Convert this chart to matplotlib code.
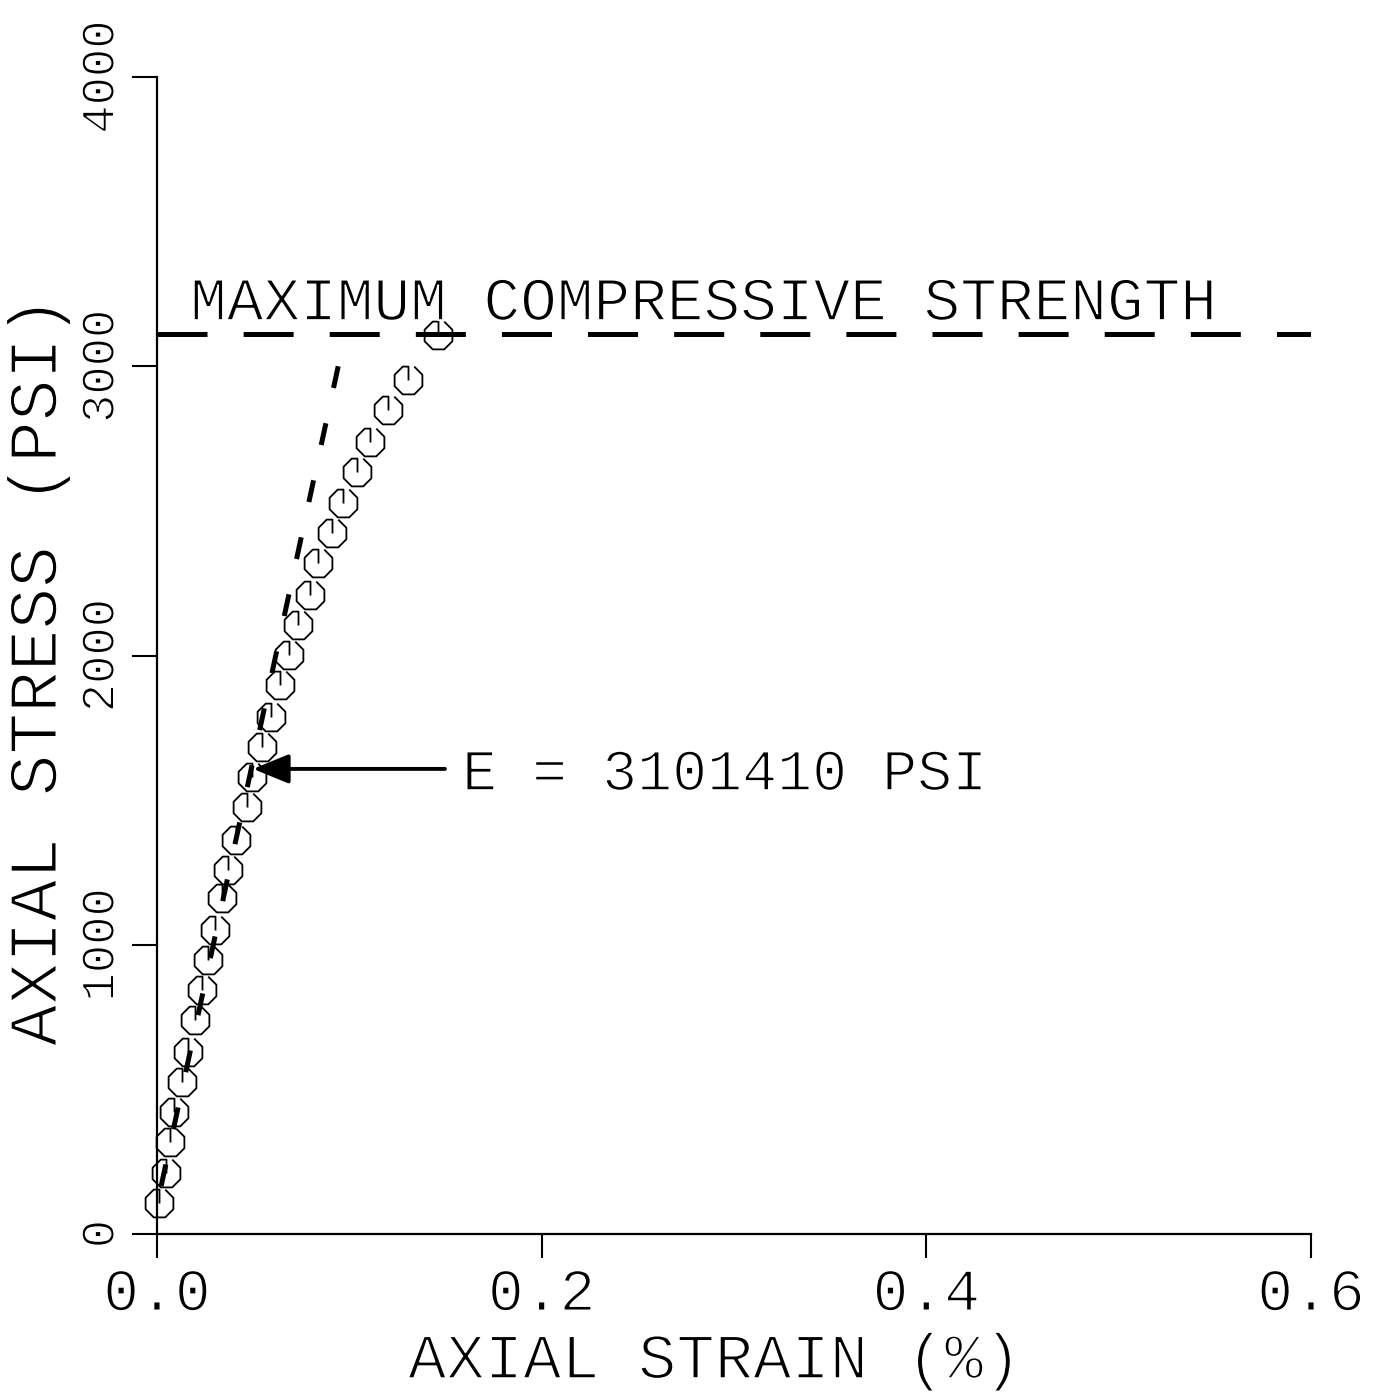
import numpy as np
import matplotlib
matplotlib.use("Agg")
import matplotlib.pyplot as plt
import matplotlib.patheffects as pe
from matplotlib.path import Path

# test points: axial strain (%) and axial stress (psi)
strain = [0.0010, 0.0047, 0.0068, 0.0088, 0.0130, 0.0161, 0.0198, 0.0234, 0.0265, 0.0302,
          0.0338, 0.0369, 0.0411, 0.0468, 0.0494, 0.0546, 0.0593, 0.0640, 0.0686, 0.0733,
          0.0796, 0.0837, 0.0910, 0.0967, 0.1040, 0.1107, 0.1201, 0.1305, 0.1461]
stress = [107, 211, 318, 422, 525, 629, 740, 844, 947, 1051,
          1161, 1258, 1362, 1476, 1580, 1683, 1787, 1898, 2001, 2105,
          2209, 2320, 2424, 2527, 2635, 2738, 2849, 2952, 3108]

# modulus line, top end first so the dash pattern starts there
mod_strain = [0.0942, 0.0]
mod_stress = [3000, 100]

max_strength = 3110
strength_label = "MAXIMUM COMPRESSIVE STRENGTH"
E_label = "E = 3101410 PSI"
E_tip = (0.0499, 1608)
E_tail = (0.1497, 1608)

xticks = [0.0, 0.2, 0.4, 0.6]
xticklabels = ["0.0", "0.2", "0.4", "0.6"]
yticks = [0, 1000, 2000, 3000, 4000]
yticklabels = ["0", "1000", "2000", "3000", "4000"]

plt.rcParams['font.family'] = ['Liberation Mono']
plt.rcParams['lines.scale_dashes'] = False


def thin(w):
    # eat into the glyph outline with white so strokes look like pen-plotter lines
    return [pe.Stroke(linewidth=w, foreground='white')]


# octagon with a stroke from centre to top, open on the upper right
c, s = np.cos(np.deg2rad(22.5)), np.sin(np.deg2rad(22.5))
verts = [(0, 0), (0, c), (-s, c), (-c, s), (-c, -s), (-s, -c), (s, -c), (c, -s), (c, s), (s, c)]
codes = [Path.MOVETO] + [Path.LINETO] * (len(verts) - 1)
sym = Path(verts, codes)

fig = plt.figure(figsize=(13.75, 13.95), dpi=100)
ax = fig.add_axes([0.1142, 0.1154, 0.8393, 0.8294])

ax.plot(strain, stress, linestyle='none', marker=sym, ms=20, mfc='none',
        mec='black', mew=1.3, clip_on=False, zorder=3)
ax.plot(mod_strain, mod_stress, color='black', lw=3.6, dashes=(16, 26), zorder=4)
ax.axhline(max_strength, color='black', lw=3.6, dashes=(36, 26), zorder=2)

ax.text(0.0172, 3160, strength_label, fontsize=44, va='baseline', ha='left',
        path_effects=thin(1.2))
ax.annotate('', xy=E_tip, xytext=E_tail,
            arrowprops=dict(arrowstyle='-|>,head_length=2.2,head_width=0.9',
                            mutation_scale=10, lw=2.8, color='black',
                            shrinkA=0, shrinkB=0), zorder=5)
ax.text(0.1586, 1535, E_label, fontsize=42, va='baseline', ha='left',
        path_effects=thin(1.2))

ax.set_xlim(0, 0.6)
ax.set_ylim(0, 4000)
for side in ['top', 'right']:
    ax.spines[side].set_visible(False)
for side in ['left', 'bottom']:
    ax.spines[side].set_linewidth(1.6)

ax.set_xticks(xticks)
ax.set_xticklabels(xticklabels)
ax.set_yticks(yticks)
ax.set_yticklabels(yticklabels, rotation=90, va='center')
ax.tick_params(axis='x', length=17, width=1.5, pad=7, labelsize=43)
ax.tick_params(axis='y', length=18, width=1.5, pad=6, labelsize=34)
for lab in ax.get_xticklabels():
    lab.set_path_effects(thin(1.2))
for lab in ax.get_yticklabels():
    lab.set_path_effects(thin(1.0))

ax.set_xlabel("AXIAL STRAIN (%)", fontsize=46, path_effects=thin(1.4))
ax.set_ylabel("AXIAL STRESS (PSI)", fontsize=50, path_effects=thin(1.4))
ax.xaxis.set_label_coords(0.4835, -0.084)
ax.yaxis.set_label_coords(-0.075, 0.487)

fig.savefig("out.png", dpi=100, facecolor='white')
